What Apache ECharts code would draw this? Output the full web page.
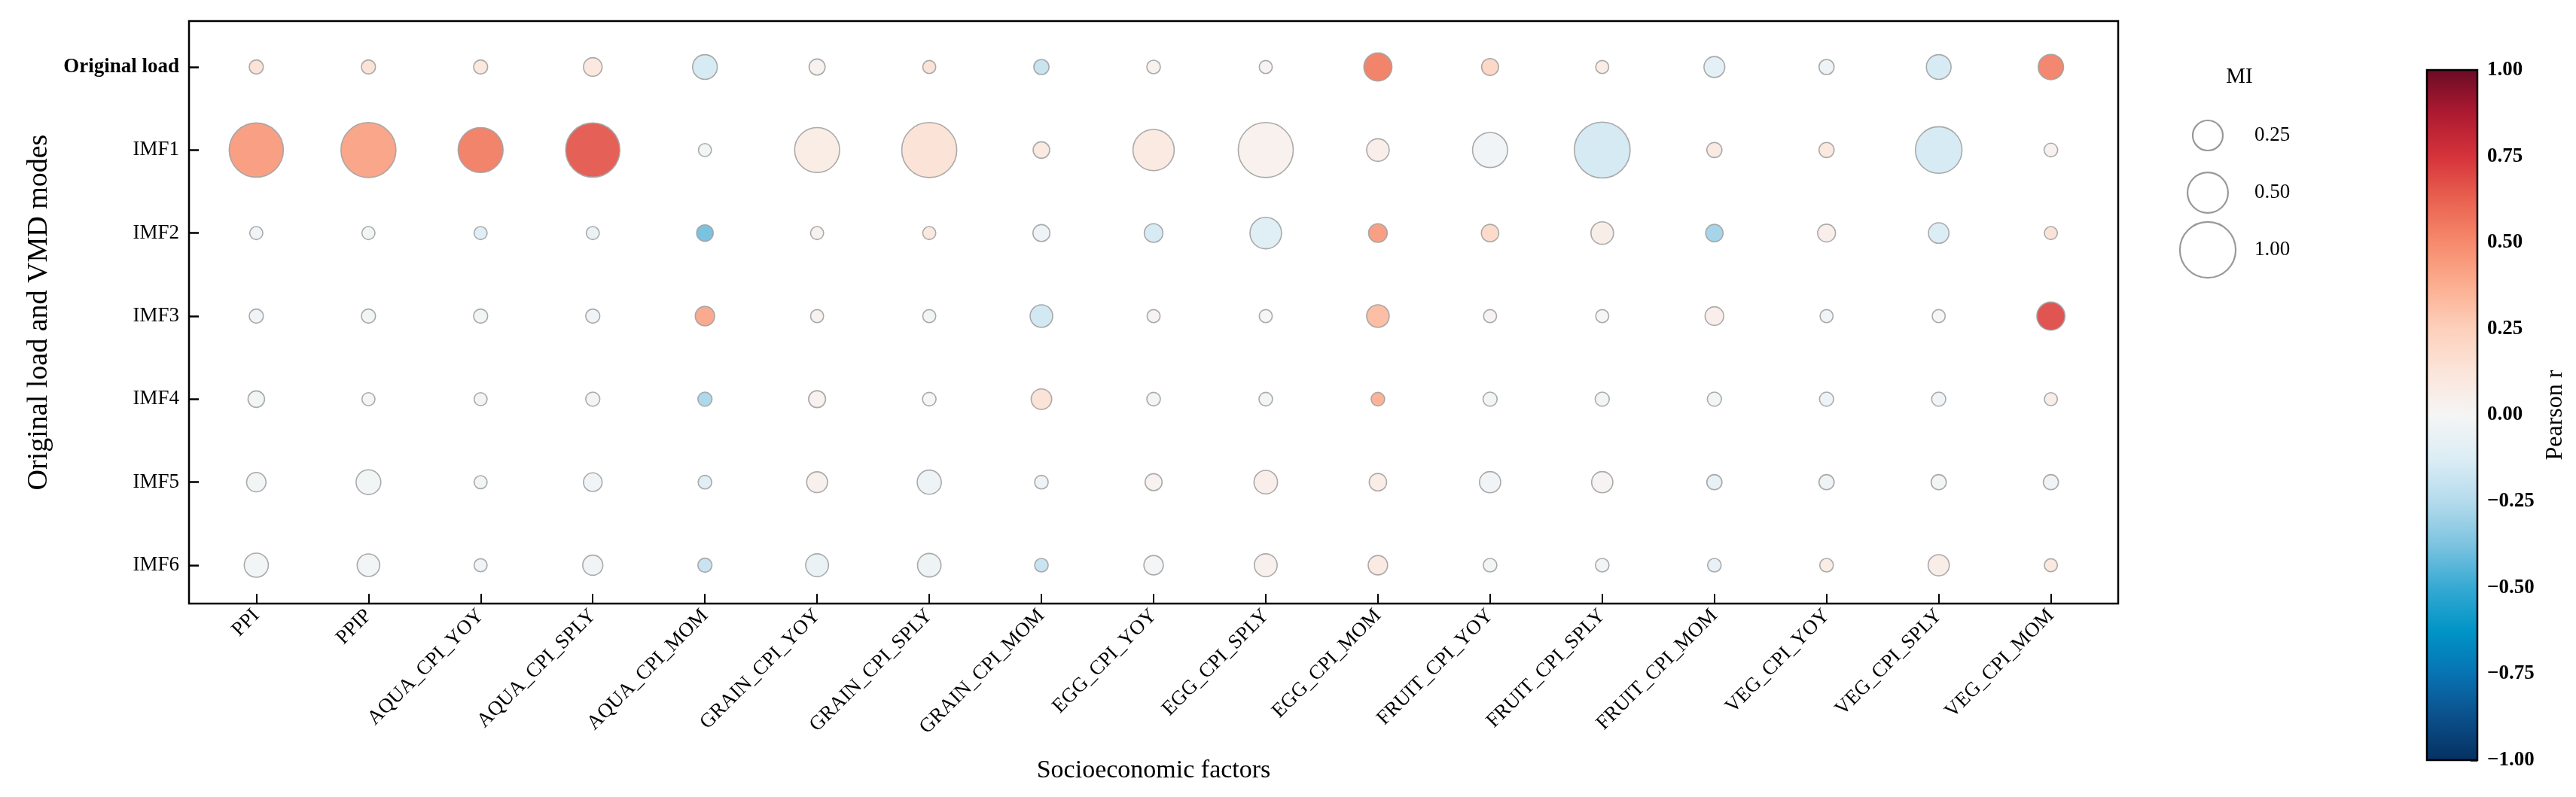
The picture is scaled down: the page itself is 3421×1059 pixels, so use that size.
<!DOCTYPE html>
<html>
<head>
<meta charset="utf-8">
<title>MI and Pearson r bubble chart</title>
<script src="https://cdn.jsdelivr.net/npm/echarts@6/dist/echarts.min.js"></script>
<style>
html, body { margin: 0; padding: 0; background: #fff; }
#chart { width: 3421px; height: 1059px; }
</style>
</head>
<body>
<div id="chart"></div>
<script>
var factors = ['PPI', 'PPIP', 'AQUA_CPI_YOY', 'AQUA_CPI_SPLY', 'AQUA_CPI_MOM',
    'GRAIN_CPI_YOY', 'GRAIN_CPI_SPLY', 'GRAIN_CPI_MOM', 'EGG_CPI_YOY', 'EGG_CPI_SPLY',
    'EGG_CPI_MOM', 'FRUIT_CPI_YOY', 'FRUIT_CPI_SPLY', 'FRUIT_CPI_MOM', 'VEG_CPI_YOY',
    'VEG_CPI_SPLY', 'VEG_CPI_MOM'];
var modes = ['Original load', 'IMF1', 'IMF2', 'IMF3', 'IMF4', 'IMF5', 'IMF6'];

// mutual information, one array per mode (columns follow factors)
var miOriginal = [0.01, 0.01, 0.01, 0.06, 0.15, 0.03, 0.00, 0.02, 0.005, 0.00, 0.21, 0.04, 0.00, 0.09, 0.02, 0.15, 0.16];
var miImf1 = [0.94, 0.97, 0.63, 0.94, 0.00, 0.63, 0.97, 0.035, 0.52, 0.97, 0.115, 0.36, 1.00, 0.02, 0.02, 0.68, 0.005];
var miImf2 = [0.00, 0.00, 0.00, 0.00, 0.035, 0.00, 0.00, 0.04, 0.06, 0.28, 0.06, 0.045, 0.115, 0.045, 0.05, 0.085, 0.00];
var miImf3 = [0.01, 0.01, 0.01, 0.01, 0.07, 0.00, 0.00, 0.115, 0.00, 0.00, 0.115, 0.00, 0.00, 0.06, 0.00, 0.00, 0.21];
var miImf4 = [0.035, 0.00, 0.00, 0.01, 0.01, 0.04, 0.005, 0.085, 0.005, 0.005, 0.005, 0.01, 0.01, 0.01, 0.01, 0.01, 0.00];
var miImf5 = [0.07, 0.15, 0.00, 0.06, 0.005, 0.09, 0.14, 0.005, 0.04, 0.13, 0.045, 0.095, 0.095, 0.02, 0.02, 0.02, 0.02];
var miImf6 = [0.14, 0.115, 0.00, 0.08, 0.01, 0.12, 0.13, 0.005, 0.07, 0.12, 0.07, 0.005, 0.005, 0.005, 0.005, 0.095, 0.00];

// Pearson r, one array per mode
var rOriginal = [0.15, 0.15, 0.12, 0.12, -0.15, 0.03, 0.15, -0.20, 0.04, 0.02, 0.55, 0.22, 0.08, -0.10, -0.05, -0.15, 0.54];
var rImf1 = [0.45, 0.43, 0.55, 0.66, -0.02, 0.08, 0.15, 0.10, 0.10, 0.04, 0.06, -0.03, -0.16, 0.10, 0.12, -0.15, 0.03];
var rImf2 = [-0.03, -0.02, -0.12, -0.06, -0.40, 0.03, 0.12, -0.05, -0.15, -0.12, 0.45, 0.20, 0.07, -0.30, 0.06, -0.13, 0.15];
var rImf3 = [-0.03, -0.02, -0.02, -0.03, 0.41, 0.03, -0.02, -0.17, 0.02, 0.00, 0.34, 0.02, 0.00, 0.06, -0.03, 0.00, 0.70];
var rImf4 = [-0.02, -0.01, -0.02, -0.02, -0.28, 0.03, 0.00, 0.15, -0.02, -0.02, 0.38, -0.02, -0.02, -0.02, -0.05, -0.03, 0.07];
var rImf5 = [-0.02, -0.02, -0.02, -0.03, -0.12, 0.05, -0.04, -0.05, 0.03, 0.06, 0.08, -0.03, 0.02, -0.08, -0.04, -0.02, -0.03];
var rImf6 = [-0.02, -0.02, -0.03, -0.03, -0.20, -0.06, -0.04, -0.20, -0.01, 0.05, 0.10, -0.02, -0.02, -0.08, 0.08, 0.07, 0.12];

var miRows = [miOriginal, miImf1, miImf2, miImf3, miImf4, miImf5, miImf6];
var rRows = [rOriginal, rImf1, rImf2, rImf3, rImf4, rImf5, rImf6];

// size legend entries
var miLegend = [0.25, 0.50, 1.00];

// colour scale, -1 .. 1 in steps of 0.125
var rColors = ['#053061', '#0b4f8a', '#0872b2', '#0094c6', '#35a9d3', '#7cc3e0', '#b4dbec', '#dcedf5',
    '#f5f5f5', '#fbe5da', '#fdd0bb', '#fcae90', '#f68a6c', '#e9614f', '#d5323b', '#ac1a30', '#6a0a25'];

var FONT = "'Liberation Serif', 'Times New Roman', serif";

function bubbleSize(mi) {
    return Math.sqrt(300 + 5200 * mi);
}

var points = [];
for (var row = 0; row < modes.length; row++) {
    for (var col = 0; col < factors.length; col++) {
        points.push([col, row, miRows[row][col], rRows[row][col]]);
    }
}

var colIdx = factors.map(function (f, i) { return i; });
var rowIdx = modes.map(function (m, i) { return i; });

var gradStops = rColors.map(function (c, i) {
    return { offset: 1 - i / (rColors.length - 1), color: c };
}).reverse();

var myChart = echarts.init(document.getElementById('chart'));

var option = {
    animation: false,
    backgroundColor: '#fff',
    textStyle: { fontFamily: FONT },
    grid: [
        { left: 251, top: 28, width: 2562, height: 774, show: true, borderColor: '#000', borderWidth: 2.5, backgroundColor: 'transparent' },
        { left: 2900, top: 142, width: 64, height: 228 },
        { left: 3223, top: 93, width: 67, height: 917 }
    ],
    xAxis: [
        {
            gridIndex: 0, type: 'value', min: -0.6, max: 16.6,
            splitLine: { show: false },
            axisLine: { show: false, onZero: false },
            axisTick: { show: true, inside: true, length: 13, customValues: colIdx, lineStyle: { color: '#000', width: 2 } },
            axisLabel: {
                customValues: colIdx, rotate: 45, margin: 12,
                fontSize: 27, fontFamily: FONT, color: '#000',
                formatter: function (v) { return factors[Math.round(v)]; }
            },
            name: 'Socioeconomic factors', nameLocation: 'middle', nameGap: 205,
            nameTextStyle: { fontSize: 34, fontFamily: FONT, color: '#000' }
        },
        { gridIndex: 1, type: 'category', data: ['MI'], show: false },
        { gridIndex: 2, type: 'category', data: ['r'], show: false }
    ],
    yAxis: [
        {
            gridIndex: 0, type: 'value', inverse: true, min: -0.553, max: 6.462,
            splitLine: { show: false },
            axisLine: { show: false, onZero: false },
            axisTick: { show: true, inside: true, length: 13, customValues: rowIdx, lineStyle: { color: '#000', width: 2.5 } },
            axisLabel: {
                customValues: rowIdx, margin: 13,
                fontSize: 27, fontFamily: FONT, color: '#000',
                formatter: function (v) {
                    var i = Math.round(v);
                    return i === 0 ? '{b|' + modes[i] + '}' : modes[i];
                },
                rich: { b: { fontWeight: 'bold', fontSize: 27, fontFamily: FONT, color: '#000' } }
            },
            name: 'Original load and VMD modes', nameLocation: 'middle', nameGap: 180,
            nameTextStyle: { fontSize: 38, fontFamily: FONT, color: '#000' }
        },
        {
            gridIndex: 1, type: 'category', inverse: true, position: 'right',
            data: miLegend.map(function (m) { return m.toFixed(2); }),
            axisLine: { show: false }, axisTick: { show: false },
            axisLabel: { margin: 30, fontSize: 27, fontFamily: FONT, color: '#000' }
        },
        {
            gridIndex: 2, type: 'value', min: -1, max: 1, interval: 0.25, position: 'right',
            splitLine: { show: false },
            axisLine: { show: false },
            axisTick: { show: true, inside: true, length: 9, lineStyle: { color: '#000', width: 2.5 } },
            axisLabel: {
                margin: 13, fontSize: 27, fontWeight: 'bold', fontFamily: FONT, color: '#000',
                formatter: function (v) { return (v < 0 ? '\u2212' : '') + Math.abs(v).toFixed(2); }
            },
            name: 'Pearson r', nameLocation: 'middle', nameGap: 88, nameRotate: 90,
            nameTextStyle: { fontSize: 32, fontFamily: FONT, color: '#000' }
        }
    ],
    visualMap: {
        show: false, type: 'continuous', seriesIndex: 0, dimension: 3,
        min: -1, max: 1, inRange: { color: rColors }
    },
    graphic: [
        { type: 'text', x: 2974, y: 102, style: { text: 'MI', align: 'center', verticalAlign: 'middle', fontSize: 29, fontFamily: FONT, fill: '#000' } }
    ],
    series: [
        {
            type: 'scatter', xAxisIndex: 0, yAxisIndex: 0,
            data: points,
            symbol: 'circle',
            symbolSize: function (val) { return bubbleSize(val[2]); },
            itemStyle: { borderColor: '#a3a3a3', borderWidth: 1.6, opacity: 0.92 }
        },
        {
            type: 'scatter', xAxisIndex: 1, yAxisIndex: 1,
            data: miLegend.map(function (m, i) { return [0, i, m]; }),
            symbol: 'circle',
            symbolSize: function (val) { return bubbleSize(val[2]); },
            itemStyle: { color: 'rgba(255,255,255,0)', borderColor: '#808080', borderWidth: 2.2 }
        },
        {
            type: 'custom', xAxisIndex: 2, yAxisIndex: 2,
            data: [[0, -1, 1]],
            renderItem: function (params, api) {
                var top = api.coord([api.value(0), api.value(2)]);
                var bottom = api.coord([api.value(0), api.value(1)]);
                var w = api.size([1, 0])[0];
                return {
                    type: 'rect',
                    shape: { x: top[0] - w / 2, y: top[1], width: w, height: bottom[1] - top[1] },
                    style: {
                        fill: new echarts.graphic.LinearGradient(0, 0, 0, 1, gradStops),
                        stroke: '#000', lineWidth: 2.5
                    }
                };
            }
        }
    ]
};
myChart.setOption(option);
</script>
</body>
</html>
